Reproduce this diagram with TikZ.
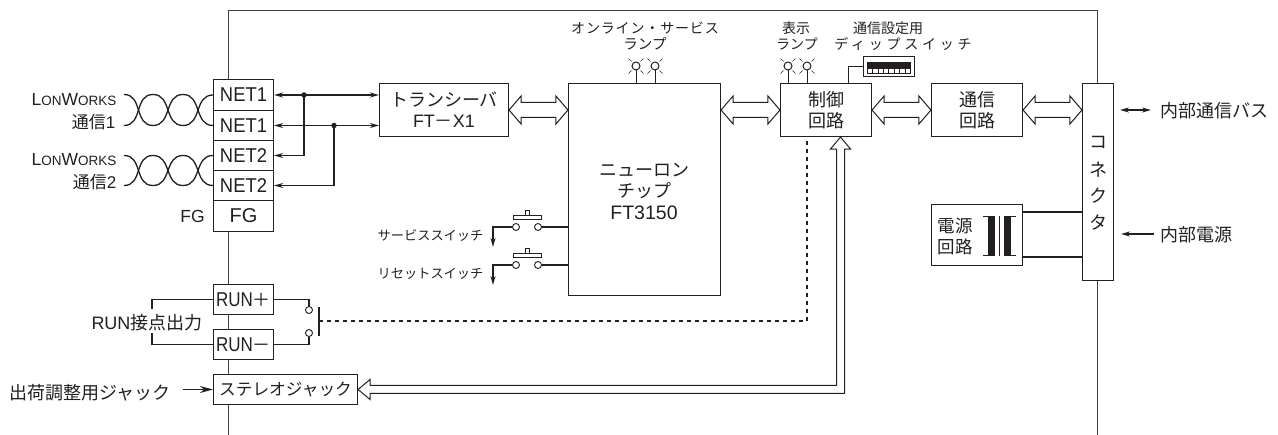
\documentclass[tikz,border=0pt]{standalone}
\usepackage{fontspec}
\setmainfont{Liberation Sans}
\newfontfamily\cjk{Noto Sans CJK JP}[Renderer=OpenType]
\usetikzlibrary{calc,arrows.meta}
\definecolor{ink}{HTML}{231F20}
\newcommand\J[1]{{\cjk #1}}
\newcommand\Jw[2]{{\cjk\addfontfeature{LetterSpace=#1}#2}}
\newcommand\fs[1]{\fontsize{#1}{#1}\selectfont}
\newcommand\LW{{\fs{17.5}L\fs{13.5}ON\fs{17.5}W\fs{13.5}ORKS}}
\newcommand\NN[1]{\scalebox{.92}[1]{#1}}
\newcommand\RR{\scalebox{.85}[1]{RUN}}
% hollow horizontal double-headed arrow between two points
\newcommand\HollowH[2]{%
  \draw[hollow] (#1) -- ($(#1)+(12,-14)$) -- ($(#1)+(12,-7.5)$) -- ($(#2)+(-12,-7.5)$) -- ($(#2)+(-12,-14)$) -- (#2)
   -- ($(#2)+(-12,14)$) -- ($(#2)+(-12,7.5)$) -- ($(#1)+(12,7.5)$) -- ($(#1)+(12,14)$) -- cycle;}
\newcommand\Lamp[1]{%
  \draw[thin1] (#1) circle[radius=4];
  \draw[thin0] ($(#1)+(4.5,4.5)$) -- ($(#1)+(7.5,7.5)$) ($(#1)+(-4.5,4.5)$) -- ($(#1)+(-7.5,7.5)$)
    ($(#1)+(4.5,-4.5)$) -- ($(#1)+(7.5,-7.5)$) ($(#1)+(-4.5,-4.5)$) -- ($(#1)+(-7.5,-7.5)$);}
\tikzset{
  thin0/.style={draw=ink,line width=.6pt},
  thin1/.style={draw=ink,line width=1pt},
  thick1/.style={draw=ink,line width=1.7pt},
  hollow/.style={draw=ink,fill=white,line width=1pt,line join=miter},
  bx/.style={draw=ink,fill=white,line width=1.1pt,inner sep=0pt,align=center,text=ink},
  lbl/.style={inner sep=0pt,text=ink,align=center},
  tip/.style={-{Stealth[length=9pt,width=5pt]}},
  tips/.style={{Stealth[length=9pt,width=5pt]}-{Stealth[length=9pt,width=5pt]}},
  contact/.style={draw=ink,fill=white,line width=.9pt,circle,inner sep=0pt,minimum size=7pt},
  dot/.style={fill=ink,circle,inner sep=0pt,minimum size=5.5pt},
  twist/.style={draw=ink,line width=1.3pt},
  tw/.style={},
}
\begin{document}
\begin{tikzpicture}[x=1pt,y=-1pt]
\useasboundingbox (0,0) rectangle (1278,435);
% housing
\coordinate (fA) at (228.5,435);\coordinate (fB) at (228.5,10.5);\coordinate (fC) at (1097.5,10.5);\coordinate (fD) at (1097.5,435);
\draw[thin1,draw=ink!85] (fA) -- (fB) -- (fC) -- (fD);
% terminals
\node[bx,minimum width=60pt,minimum height=31pt,font=\fs{20}] (n1) at (243.5,95) {\NN{NET1}};
\node[bx,minimum width=60pt,minimum height=30pt,font=\fs{20}] (n2) at (243.5,125.5) {\NN{NET1}};
\node[bx,minimum width=60pt,minimum height=30pt,font=\fs{20}] (n3) at (243.5,155.5) {\NN{NET2}};
\node[bx,minimum width=60pt,minimum height=30pt,font=\fs{20}] (n4) at (243.5,185.5) {\NN{NET2}};
\node[bx,minimum width=60pt,minimum height=31pt,font=\fs{20}] (fg) at (243.5,216) {FG};
\node[bx,minimum width=60pt,minimum height=30pt,font=\fs{20}] (rp) at (243.5,299.5) {\RR{\fs{18}\J{＋}}};
\node[bx,minimum width=60pt,minimum height=30pt,font=\fs{20}] (rm) at (243.5,344.5) {\RR{\fs{18}\J{－}}};
\node[bx,minimum width=144pt,minimum height=30pt,font=\fs{16.7}] (st) at (285.5,389.5) {\J{ステレオジャック}};
% blocks
\node[bx,minimum width=129pt,minimum height=53pt,font=\fontsize{18}{21}\selectfont] (trx) at (444,110) {\J{トランシーバ}\\FT\J{－}X1};
\node[bx,minimum width=152pt,minimum height=212pt] (neu) at (644.5,189.5) {};
\node[lbl,font=\fontsize{18}{21.5}\selectfont] (neut) at (644,191.5) {\J{ニューロン}\\\J{チップ}\\{\fs{19.5}FT3150}};
\node[bx,minimum width=91pt,minimum height=53pt,font=\fontsize{18}{21}\selectfont] (ctl) at (826,110) {\J{制御}\\\J{回路}};
\node[bx,minimum width=91pt,minimum height=53pt,font=\fontsize{18}{21}\selectfont] (com) at (977,110) {\J{通信}\\\J{回路}};
\node[bx,minimum width=31pt,minimum height=197pt] (con) at (1098,182) {};
\node[bx,minimum width=91pt,minimum height=61pt] (psu) at (977,235) {};
\node[lbl,font=\fontsize{17.5}{21}\selectfont] (psut) at (955,236.5) {\J{電源}\\\J{回路}};
\node[lbl,font=\fs{18}] (c1) at (1098,142) {\J{コ}};
\node[lbl,font=\fs{18}] (c2) at (1098,170) {\J{ネ}};
\node[lbl,font=\fs{18}] (c3) at (1098,196) {\J{ク}};
\node[lbl,font=\fs{18}] (c4) at (1098,223) {\J{タ}};
% left labels
\node[lbl,font=\fs{17},anchor=east] (lw1) at (116.5,100) {\LW};
\node[lbl,font=\fs{17},anchor=east] (t1) at (115.5,122) {\J{通信}1};
\node[lbl,font=\fs{17},anchor=east] (lw2) at (116.5,160) {\LW};
\node[lbl,font=\fs{17},anchor=east] (t2) at (116.5,182) {\J{通信}2};
\node[lbl,font=\fs{17.5}] (fgl) at (192.5,216) {FG};
\node[lbl,font=\fs{18}] (runl) at (147,322.5) {RUN\J{接点出力}};
\node[lbl,font=\fs{18},anchor=west] (jk) at (9,392.5) {\J{出荷調整用ジャック}};
% twisted pairs
\coordinate (a1) at (124,94.5);\coordinate (a2) at (124,125.5);
\draw[twist] (a1) .. controls +(19,0) and +(-19,0) .. (153,125.5) .. controls +(19,0) and +(-19,0) .. (183,94.5) .. controls +(19,0) and +(-19,0) .. (n2.west);
\draw[twist] (a2) .. controls +(19,0) and +(-19,0) .. (153,94.5) .. controls +(19,0) and +(-19,0) .. (183,125.5) .. controls +(19,0) and +(-19,0) .. (n1.west);
\coordinate (b1) at (124,155.5);\coordinate (b2) at (124,185.5);
\draw[twist] (b1) .. controls +(19,0) and +(-19,0) .. (153,185.5) .. controls +(19,0) and +(-19,0) .. (183,155.5) .. controls +(19,0) and +(-19,0) .. (n4.west);
\draw[twist] (b2) .. controls +(19,0) and +(-19,0) .. (153,155.5) .. controls +(19,0) and +(-19,0) .. (183,185.5) .. controls +(19,0) and +(-19,0) .. (n3.west);
% NET wiring
\draw[thick1,tips] (n1.east) -- (trx.west |- n1.east);
\draw[thick1,tips] (n2.east) -- (trx.west |- n2.east);
\node[dot] (d1) at (304,95) {};
\node[dot] (d2) at (334,125.5) {};
\draw[thick1,tip] (d1.center) |- (n3.east);
\draw[thick1,tip] (d2.center) |- (n4.east);
% hollow arrows
\HollowH{trx.east}{neu.west |- trx.east}
\HollowH{neu.east |- ctl.west}{ctl.west}
\HollowH{ctl.east}{com.west}
\HollowH{com.east}{con.west |- com.east}
% jack bus
\coordinate (busc) at (840.5,389.5);
\coordinate (bust) at (ctl.south -| busc);
\draw[hollow] (st.east) -- ($(st.east)+(12,-10)$) -- ($(st.east)+(12,-4)$) -- ($(busc)+(-4,-4)$) -- ($(bust)+(-4,12)$) -- ($(bust)+(-10,12)$) -- (bust) -- ($(bust)+(10,12)$) -- ($(bust)+(4,12)$) -- ($(busc)+(4,4)$) -- ($(st.east)+(12,4)$) -- ($(st.east)+(12,10)$) -- cycle;
% dashed relay drive
\coordinate (ctlD) at (807,141);
\coordinate (rel) at (319,321);
\draw[thick1,dash pattern=on 4pt off 4pt] (ctlD) |- (rel);
% RUN contact
\node[contact] (k1) at (309,310) {};
\node[contact] (k2) at (309,333) {};
\coordinate (barT) at (319,307);\coordinate (barB) at (319,336);
\draw[thick1] (barT) -- (barB);
\draw[thick1] (rp.east) -| (k1.north);
\draw[thick1] (rm.east) -| (k2.south);
\coordinate (lT) at (152,309);\coordinate (lB) at (152,333);
\draw[thick1] (rp.west) -| (lT);
\draw[thick1] (rm.west) -| (lB);
% jack arrow
\coordinate (jkS) at (183,389.5);
\draw[thick1,-{Stealth[length=13pt,width=7pt]}] (jkS) -- (st.west);
% service / reset switches
\node[contact] (s1a) at (516,227) {};\node[contact] (s1b) at (538,227) {};
\node[contact] (s2a) at (516,265) {};\node[contact] (s2b) at (538,265) {};
\coordinate (s1e) at (493,247);\coordinate (s2e) at (493,285);
\draw[thick1] (s1b.east) -- (neu.west |- s1b.east);
\draw[thick1] (s2b.east) -- (neu.west |- s2b.east);
\draw[thick1,tip,line width=1.4pt] (s1a.west) -| (s1e);
\draw[thick1,tip,line width=1.4pt] (s2a.west) -| (s2e);
\draw[hollow] (513,219.5) rectangle (541,215.5);
\draw[hollow] (525,215.5) -- (525,211) -- (529,211) -- (529,215.5);
\draw[hollow] (513,257.5) rectangle (541,253.5);
\draw[hollow] (525,253.5) -- (525,249) -- (529,249) -- (529,253.5);
\node[lbl,font=\fs{13.2}] (sl1) at (430.5,236) {\J{サービススイッチ}};
\node[lbl,font=\fs{13.2}] (sl2) at (430.5,274) {\J{リセットスイッチ}};
% top labels
\node[lbl,font=\fs{14}] (tl1) at (645,28) {\Jw{6}{オンライン・サービス}};
\node[lbl,font=\fs{14.5}] (tl2) at (645,44) {\J{ランプ}};
\node[lbl,font=\fs{14}] (tl3) at (796,28) {\J{表示}};
\node[lbl,font=\fs{14}] (tl4) at (797,44) {\J{ランプ}};
\node[lbl,font=\fs{14}] (tl5) at (888,28) {\J{通信設定用}};
\node[lbl,font=\fs{14}] (tl6) at (903,44) {\Jw{27}{ディップスイッチ}};
% lamps
\coordinate (L1) at (636,66);\coordinate (L2) at (655,66);\coordinate (L3) at (788,66);\coordinate (L4) at (807,66);
\Lamp{L1}\Lamp{L2}\Lamp{L3}\Lamp{L4}
\draw[thin1] (L1)++(0,4) -- (neu.north -| L1);
\draw[thin1] (L2)++(0,4) -- (neu.north -| L2);
\draw[thin1] (L3)++(0,4) -- (ctl.north -| L3);
\draw[thin1] (L4)++(0,4) -- (ctl.north -| L4);
% DIP switch
\node[draw=ink,fill=white,line width=1pt,minimum width=51pt,minimum height=20pt,inner sep=0pt] (dip) at (888.5,67) {};
\coordinate (dipc) at (848,83);
\draw[thin1] (dip.west) -| (dipc);
\foreach \i in {0,...,7} {
  \draw[draw=ink,line width=.5pt] ({867+\i*5.4},62) rectangle ({867+\i*5.4+5.4},73);
  \fill[ink] ({867+\i*5.4},62) rectangle ({867+\i*5.4+5.4},69);
  \fill[white] ({867+\i*5.4+1.6},69) rectangle ({867+\i*5.4+3.8},72.5);
}
% transformer and power lines
\draw[thick1] (psu.east |- 0,212) -- (con.west |- 0,212);
\draw[thick1] (psu.east |- 0,257) -- (con.west |- 0,257);
\fill[ink] (988,216) rectangle (995,256);
\fill[ink] (1004,216) rectangle (1011,256);
\draw[thin1] (983,216.5) -- (995,216.5) (983,255.5) -- (995,255.5);
\draw[thin1] (1004,216.5) -- (1016,216.5) (1004,255.5) -- (1016,255.5);
\draw[thin1] (999,216) -- (999,256);
% right side
\coordinate (r1a) at (1120,110);\coordinate (r1b) at (1151,110);
\coordinate (r2a) at (1154,234);\coordinate (r2b) at (1121,234);
\draw[thick1,line width=1.3pt,tips] (r1a) -- (r1b);
\draw[thick1,line width=1.3pt,tip] (r2a) -- (r2b);
\node[lbl,font=\fs{18},anchor=west] (rb) at (1160,111) {\J{内部通信バス}};
\node[lbl,font=\fs{18},anchor=west] (rp2) at (1160,235) {\J{内部電源}};
\end{tikzpicture}
\end{document}
